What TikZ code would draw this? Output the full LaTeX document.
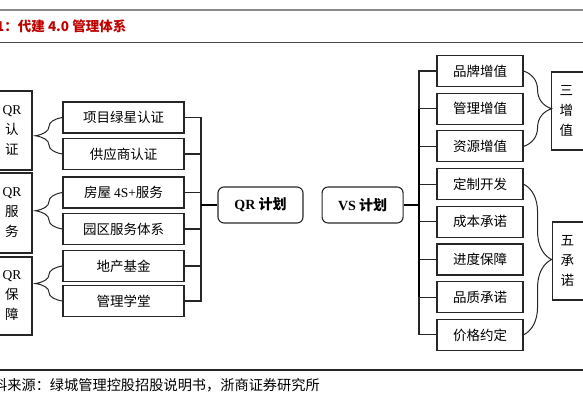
\documentclass[tikz,border=0pt]{standalone}
\usepackage{fontspec}
\setmainfont{Liberation Serif}
\newfontfamily\cjk{Noto Sans CJK SC}
\usetikzlibrary{positioning,decorations.pathreplacing}
\definecolor{ink}{HTML}{262626}
\definecolor{titlered}{HTML}{C00000}
\definecolor{rulegray}{HTML}{8C8C8C}

\begin{document}
\begin{tikzpicture}[x=1pt,y=-1pt,
    box/.style={draw=ink,line width=1.1pt,minimum width=86pt,minimum height=31pt,
      inner sep=0pt,font=\fontsize{13.5}{20}\selectfont\cjk},
    midbox/.style={box,minimum width=121pt},
    sidebox/.style={draw=ink,line width=1.1pt,inner sep=0pt,align=center,
      minimum width=40pt,font=\fontsize{13.5}{20}\selectfont\cjk},
    plan/.style={draw=ink,line width=1.1pt,rounded corners=6pt,minimum height=36pt,
      inner sep=0pt,font=\fontsize{14}{16}\selectfont\cjk\bfseries},
    wire/.style={draw=ink,line width=1.1pt},
    bus/.style={draw=black,line width=2.2pt},
    lbrace/.style={draw=ink,line width=1pt,decorate,decoration={brace,amplitude=27pt}},
    rbrace/.style={draw=ink,line width=1pt,decorate,decoration={brace,amplitude=28pt}}]
  \useasboundingbox (0,0) rectangle (583,407);

  % header and footer
  \draw[rulegray,line width=2pt] (0,10) -- (583,10);
  \draw[ink!85,line width=1pt] (0,42.5) -- (583,42.5);
  \draw[ink,line width=1.2pt] (0,370) -- (583,370);
  \node[anchor=west,inner sep=0pt,text=titlered,font=\fontsize{13.5}{16}\selectfont\cjk\bfseries]
    (title) at (-4,26) {1：代建 4.0 管理体系};
  \node[anchor=west,inner sep=0pt,font=\fontsize{14.2}{16}\selectfont\cjk]
    (source) at (-7,385) {料来源：绿城管理控股招股说明书，浙商证券研究所};

  % QR side
  \node[sidebox,minimum height=79pt] (qrrz) at (12,130.5) {{\rmfamily QR}\\认\\证};
  \node[sidebox,minimum height=80pt] (qrfw) at (12,213) {{\rmfamily QR}\\服\\务};
  \node[sidebox,minimum height=78pt] (qrbz) at (12,296) {{\rmfamily QR}\\保\\障};

  \node[midbox] (xm)  at (123.5,117.5) {项目绿星认证};
  \node[midbox] (gys) at (123.5,154) {供应商认证};
  \node[midbox] (fw)  at (123.5,192.5) {房屋 {\rmfamily 4S+}服务};
  \node[midbox] (yq)  at (123.5,229) {园区服务体系};
  \node[midbox] (dc)  at (123.5,266) {地产基金};
  \node[midbox] (gl)  at (123.5,301) {管理学堂};

  \draw[lbrace] (gys.west) -- (xm.west);
  \draw[lbrace] (yq.west) -- (fw.west);
  \draw[lbrace] (gl.west) -- (dc.west);

  \node[plan,minimum width=85pt] (qr) at (260.5,205) {{\rmfamily QR} 计划};
  \node[plan,minimum width=81pt,right=18pt of qr] (vs) {{\rmfamily VS} 计划};

  \coordinate (mbus) at (201,205);
  \foreach \n in {xm,gys,fw,yq,dc,gl}
    \draw[wire] (\n.east) -| (mbus);
  \draw[bus] (mbus) -- (qr.west);

  % VS side
  \foreach \n/\t [count=\i from 0] in {ppzz/品牌增值,glzz/管理增值,zyzz/资源增值,
      dzkf/定制开发,cbcn/成本承诺,jdbz/进度保障,pzcn/品质承诺,jgyd/价格约定}
    \node[box] (\n) at (480,{71+37.7*\i}) {\t};

  \coordinate (vbus) at (419,205);
  \draw[bus] (vs.east) -- (vbus);
  \foreach \n in {ppzz,glzz,zyzz,dzkf,cbcn,jdbz,pzcn,jgyd}
    \draw[wire] (\n.west) -| (vbus);
  \draw[bus,line width=1.8pt] (glzz.west -| vbus) -- (pzcn.west -| vbus);

  \draw[rbrace] (ppzz.east) -- (zyzz.east);
  \draw[rbrace] (dzkf.east) -- (jgyd.east);

  \node[sidebox,anchor=west,text width=30pt,align=left,inner xsep=8pt,minimum height=78pt]
    (szz) at (551,111) {三\\增\\值};
  \node[sidebox,anchor=west,text width=30pt,align=left,inner xsep=8pt,minimum height=78pt]
    (wcn) at (552,261) {五\\承\\诺};
\end{tikzpicture}
\end{document}
